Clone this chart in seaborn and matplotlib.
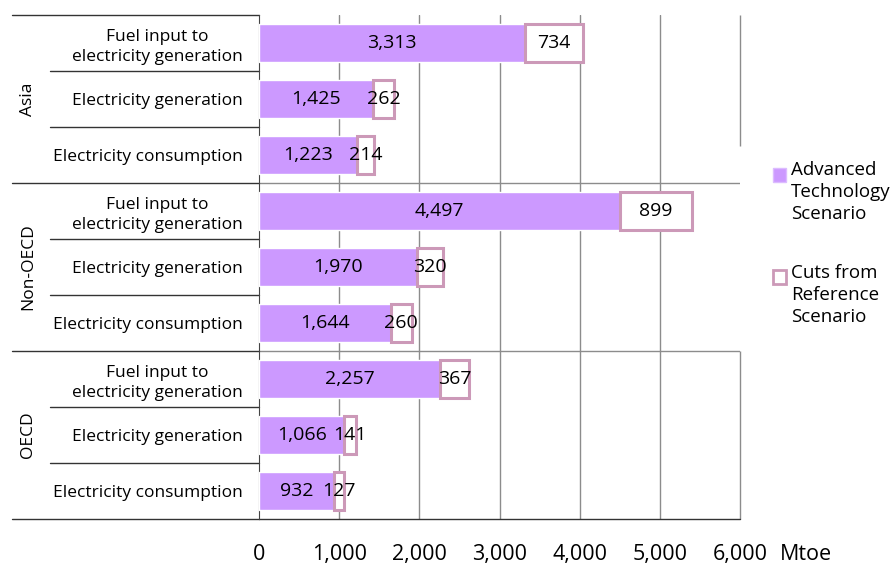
import numpy as np
import pandas as pd
import matplotlib.pyplot as plt
import seaborn as sns
from matplotlib.patches import Rectangle

# values (Mtoe)
groups = ['Asia', 'Non-OECD', 'OECD']
items = ['Fuel input to\nelectricity generation', 'Electricity generation', 'Electricity consumption']
advanced = [3313, 1425, 1223, 4497, 1970, 1644, 2257, 1066, 932]
cuts = [734, 262, 214, 899, 320, 260, 367, 141, 127]
xticks = [0, 1000, 2000, 3000, 4000, 5000, 6000]
legend_labels = ['Advanced\nTechnology\nScenario', 'Cuts from\nReference\nScenario']

purple = '#cc99ff'
mauve = '#cc99b8'
grid_grey = '#8c8c8c'

rows = [g + '|' + i for g in groups for i in items]
df = pd.DataFrame({'row': rows, 'advanced': advanced, 'cut': cuts})

sns.set_style('white')
plt.rcParams['font.family'] = ['Open Sans', 'DejaVu Sans']
plt.rcParams['text.color'] = 'black'
plt.rcParams['xtick.color'] = 'black'
plt.rcParams['ytick.color'] = 'black'

fig = plt.figure(figsize=(8.96, 5.68), dpi=100)
ax = fig.add_axes([259 / 896, 49 / 568, 481 / 896, 504 / 568])

# purple part through seaborn, the cut boxes stacked on top of it
sns.barplot(data=df, x='advanced', y='row', order=rows, color=purple,
            saturation=1, width=0.68, errorbar=None, ax=ax, zorder=3)
pos = np.arange(len(rows))
cut_bars = ax.barh(pos, df['cut'], left=df['advanced'], height=0.68,
                   color='white', edgecolor=mauve, linewidth=2.2, zorder=3)

ax.bar_label(ax.containers[0], labels=[f'{v:,}' for v in advanced],
             label_type='center', fontsize=14, zorder=5)
ax.bar_label(cut_bars, labels=[f'{v:,}' for v in cuts],
             label_type='center', fontsize=14, zorder=5)

ax.set_xlim(xticks[0], xticks[-1])
ax.set_ylim(len(rows) - 0.5, -0.5)
ax.set_xlabel('')
ax.set_ylabel('')

# vertical gridlines (the last one is hidden behind the legend in the middle)
for t in xticks[1:-1]:
    ax.axvline(t, color=grid_grey, lw=1, zorder=1)
ax.vlines(xticks[-1], -0.5, 1.84, color=grid_grey, lw=1, zorder=1, clip_on=False)
ax.vlines(xticks[-1], 5.5, 8.5, color=grid_grey, lw=1, zorder=1, clip_on=False)

for s in ['top', 'right']:
    ax.spines[s].set_visible(False)
ax.spines['left'].set_color('#444444')
ax.spines['bottom'].set_visible(False)

ax.set_xticks(xticks)
ax.set_xticklabels([f'{t:,}' for t in xticks], fontsize=15.5)
ax.tick_params(axis='x', direction='out', length=6, width=1, color='#333333', pad=12)

ax.set_yticks(pos)
ax.set_yticklabels([r.split('|')[1] for r in rows], fontsize=12.5,
                   multialignment='center', linespacing=1.35)
ax.tick_params(axis='y', length=0, pad=12)

# category separators on the left side
trans = ax.get_yaxis_transform()
x_grp = (12 - 259) / 481
x_sub = (50 - 259) / 481
for k in range(len(groups) + 1):
    yb = k * len(items) - 0.5
    ax.plot([x_grp, 0], [yb, yb], color='#333333', lw=1, transform=trans, clip_on=False)
    if 0 < k < len(groups):
        ax.plot([0, 1], [yb, yb], color=grid_grey, lw=1, transform=trans, zorder=1)
    if k == len(groups):
        ax.plot([0, 1], [yb, yb], color='#333333', lw=1, transform=trans, clip_on=False)
    if k < len(groups):
        for j in range(1, len(items)):
            ys = k * len(items) + j - 0.5
            ax.plot([x_sub, 0], [ys, ys], color='#333333', lw=1, transform=trans,
                    clip_on=False)
        ax.text((28 - 259) / 481, k * len(items) + 1, groups[k], rotation=90,
                ha='center', va='center', fontsize=12.5, transform=trans)

fig.text(806 / 896, 1 - 555 / 568, 'Mtoe', ha='center', va='center', fontsize=15.5)

# legend: swatch next to the first line of each label
fig.patches.append(Rectangle((773 / 896, 1 - 182 / 568), 13 / 896, 14 / 568,
                             transform=fig.transFigure, facecolor=purple,
                             edgecolor='#dcbcff', lw=1))
fig.patches.append(Rectangle((773 / 896, 1 - 284 / 568), 13 / 896, 14 / 568,
                             transform=fig.transFigure, facecolor='white',
                             edgecolor=mauve, lw=2))
fig.text(791 / 896, 1 - 161 / 568, legend_labels[0], ha='left', va='top',
         fontsize=13.5, linespacing=1.3)
fig.text(791 / 896, 1 - 264 / 568, legend_labels[1], ha='left', va='top',
         fontsize=13.5, linespacing=1.3)

fig.savefig('out.png', dpi=100)
